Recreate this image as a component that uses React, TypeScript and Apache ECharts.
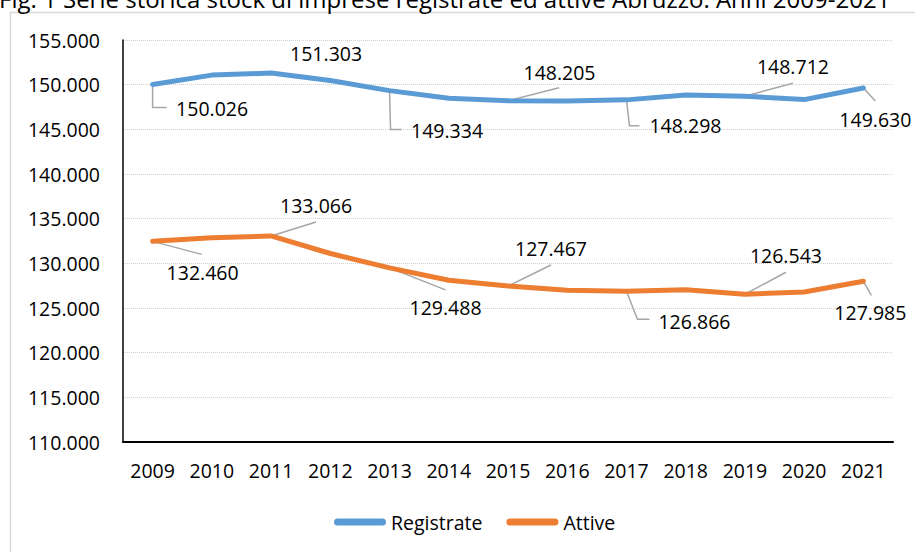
import React, { useEffect, useRef } from 'react';
import * as echarts from 'echarts';

// ---- data ----
const years = ['2009', '2010', '2011', '2012', '2013', '2014', '2015', '2016', '2017', '2018', '2019', '2020', '2021'];
const registrate = [150026, 151070, 151303, 150460, 149334, 148480, 148205, 148180, 148298, 148850, 148712, 148330, 149630];
const attive = [132460, 132860, 133066, 131100, 129488, 128100, 127467, 127000, 126866, 127050, 126543, 126800, 127985];
const labeledIdx = [0, 2, 4, 6, 8, 10, 12];
const yMin = 110000;
const yMax = 155000;
const yStep = 5000;
const titleText = 'Fig. 1 Serie storica stock di imprese registrate ed attive Abruzzo. Anni 2009-2021';

// ---- label layout (pixel offsets relative to the data point) ----
const regLabelOff = [[59.5, 24.5], [55, -20], [57.5, 40], [51.5, -28], [59, 25.5], [48, -30], [12, 32]];
const regLeaders: (number[][] | null)[] = [
  [[0, 0], [0, 23], [14, 23]],
  null,
  [[0, 0], [1, 39], [12, 39]],
  [[0, 0], [51, -13]],
  [[0, 0], [3, 26], [13, 26]],
  [[0, 0], [48, -13]],
  [[0, 0], [12, 13]],
];
const attLabelOff = [[50, 31], [45, -30], [56, 40], [43, -37], [68, 30.5], [41, -39], [7, 31]];
const attLeaders: (number[][] | null)[] = [
  [[0, 0], [49, 13]],
  [[0, 0], [45, -14]],
  [[0, 0], [56, 22]],
  [[0, 0], [43, -21]],
  [[0, 0], [11, 28], [23, 28]],
  [[0, 0], [41, -22]],
  [[0, 0], [8, 14]],
];

const FONT = 'Open Sans';
const FS = 19.5;
const BLUE = '#5B9BD5';
const ORANGE = '#ED7D31';

const fmt = (v: number) => String(Math.round(v)).replace(/\B(?=(\d{3})+(?!\d))/g, '.');

function labelSeries(name: string, values: number[], leaders: (number[][] | null)[], offs: number[][]) {
  return {
    type: 'custom',
    name,
    coordinateSystem: 'cartesian2d',
    z: 1,
    silent: true,
    encode: { x: 0, y: 1 },
    data: labeledIdx.map((i) => [i, values[i]]),
    renderItem: (params: any, api: any) => {
      const i = api.value(0);
      const v = api.value(1);
      const p = api.coord([i, v]);
      const k = params.dataIndex;
      const leader = leaders[k];
      const off = offs[k];
      const children: any[] = [];
      if (leader) {
        children.push({
          type: 'polyline',
          shape: { points: leader.map(([dx, dy]) => [p[0] + dx, p[1] + dy]) },
          style: { stroke: '#a6a6a6', lineWidth: 1.5, fill: null },
        });
      }
      children.push({
        type: 'text',
        x: p[0] + off[0],
        y: p[1] + off[1],
        style: {
          text: fmt(v),
          fontSize: FS,
          fontFamily: FONT,
          fill: '#000',
          align: 'center',
          verticalAlign: 'middle',
        },
      });
      return { type: 'group', children };
    },
  };
}

export default function App() {
  const ref = useRef<HTMLDivElement>(null);
  useEffect(() => {
    document.body.style.margin = '0';
    const chart = echarts.init(ref.current!, null, { renderer: 'svg' });
    const legendIcon = 'path://M3.5,0H48.5A3.5,3.5,0,0,1,48.5,7H3.5A3.5,3.5,0,0,1,3.5,0Z';
    chart.setOption({
      animation: false,
      textStyle: { fontFamily: FONT },
      graphic: [
        {
          type: 'rect',
          z: -10,
          silent: true,
          shape: { x: 10.5, y: 12.5, width: 1000, height: 700 },
          style: { fill: null, stroke: '#d9d9d9', lineWidth: 1.5 },
        },
        {
          type: 'text',
          x: -1,
          y: -2,
          z: 10,
          style: { text: titleText, fontSize: 24, fontFamily: FONT, fill: '#000', verticalAlign: 'middle' },
        },
      ],
      grid: { left: 123, right: 22, top: 40, bottom: 110, containLabel: false },
      legend: {
        data: [
          { name: 'Registrate', icon: legendIcon, itemStyle: { color: BLUE, borderWidth: 0 } },
          { name: 'Attive', icon: legendIcon, itemStyle: { color: ORANGE, borderWidth: 0 } },
        ],
        left: 329,
        top: 507,
        itemWidth: 52,
        itemHeight: 7,
        itemGap: 24,
        textStyle: { fontSize: FS, fontFamily: FONT, color: '#000' },
      },
      xAxis: {
        type: 'category',
        data: years,
        boundaryGap: true,
        axisLine: { lineStyle: { color: '#000', width: 2 } },
        axisTick: { show: false },
        axisLabel: { color: '#000', fontSize: FS, fontFamily: FONT, margin: 18 },
      },
      yAxis: {
        type: 'value',
        min: yMin,
        max: yMax,
        interval: yStep,
        axisLine: { show: true, lineStyle: { color: '#000', width: 1.5 } },
        axisTick: { show: false },
        axisLabel: { color: '#000', fontSize: FS, fontFamily: FONT, margin: 23, formatter: (v: number) => fmt(v) },
        splitLine: { lineStyle: { color: '#d0d0d0', type: 'dotted', width: 1 } },
      },
      series: [
        labelSeries('lbl-reg', registrate, regLeaders, regLabelOff),
        labelSeries('lbl-att', attive, attLeaders, attLabelOff),
        {
          name: 'Registrate',
          type: 'line',
          z: 2,
          data: registrate,
          showSymbol: false,
          symbol: 'none',
          color: BLUE,
          lineStyle: { color: BLUE, width: 5, cap: 'round', join: 'round' },
        },
        {
          name: 'Attive',
          type: 'line',
          z: 2,
          data: attive,
          showSymbol: false,
          symbol: 'none',
          color: ORANGE,
          lineStyle: { color: ORANGE, width: 5, cap: 'round', join: 'round' },
        },
      ],
    });
    return () => chart.dispose();
  }, []);
  return <div ref={ref} style={{ width: 915, height: 552 }} />;
}
